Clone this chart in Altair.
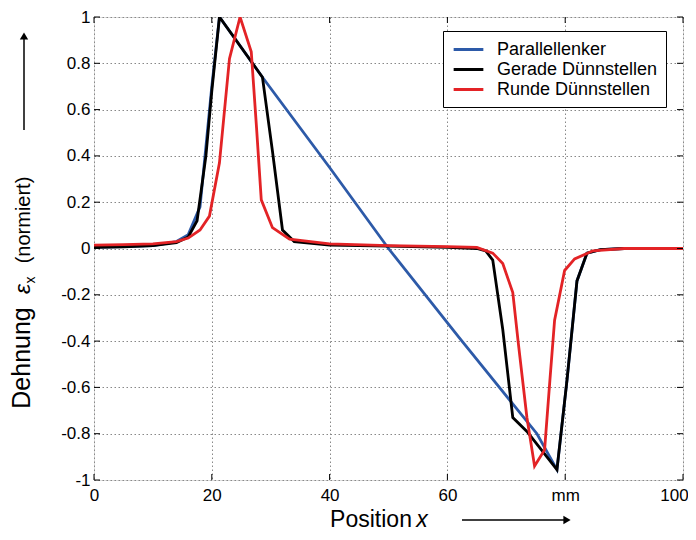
import altair as alt
import pandas as pd

# ---- data ----
x_par = [0, 5, 10, 14, 16, 18, 20, 21.3, 28.6, 40, 50, 62, 75.2, 78.6, 80.3, 82, 83.7, 86, 90, 100]
y_par = [0.005, 0.008, 0.012, 0.03, 0.06, 0.18, 0.7, 1.0, 0.74, 0.35, 0.0, -0.385, -0.80, -0.955,
         -0.57, -0.14, -0.02, -0.005, 0.0, 0.0]

x_ger = [0, 5, 10, 14, 16, 17.5, 19, 20, 21.3, 28.6, 30.3, 32, 34, 40, 50, 60, 65, 66.5, 67.7,
         69.4, 71.1, 73.5, 78.6, 80.3, 82, 83.7, 86, 90, 100]
y_ger = [0.005, 0.007, 0.012, 0.025, 0.05, 0.12, 0.4, 0.68, 1.0, 0.74, 0.42, 0.08, 0.03, 0.015,
         0.01, 0.005, 0.0, -0.01, -0.05, -0.35, -0.73, -0.79, -0.955, -0.57, -0.14, -0.02,
         -0.005, 0.0, 0.0]

x_run = [0, 5, 10, 14, 16, 18, 19.6, 21.3, 23, 24.8, 26.7, 27.6, 28.4, 30.3, 33.2, 40, 50, 60,
         65, 67.7, 69.4, 71.1, 72, 73.5, 74.8, 76.5, 77.4, 78.2, 79.9, 81.6, 84.7, 90, 100]
y_run = [0.015, 0.017, 0.02, 0.03, 0.045, 0.08, 0.14, 0.37, 0.82, 1.0, 0.85, 0.52, 0.21, 0.09,
         0.04, 0.02, 0.012, 0.008, 0.005, -0.02, -0.065, -0.19, -0.40, -0.73, -0.94, -0.87,
         -0.57, -0.31, -0.095, -0.045, -0.01, 0.0, 0.0]

series_names = ["Parallellenker", "Gerade Dünnstellen", "Runde Dünnstellen"]
series_colors = ["#2d5aa8", "#000000", "#e32326"]

x_ticks = [0, 20, 40, 60, 80, 100]
y_ticks = [-1, -0.8, -0.6, -0.4, -0.2, 0, 0.2, 0.4, 0.6, 0.8, 1]

W, H = 589, 463
FONT = "Liberation Sans"

xs = alt.Scale(domain=[0, 100], nice=False, zero=False)
ys = alt.Scale(domain=[-1, 1], nice=False, zero=False)

xaxis = alt.Axis(values=x_ticks, title=None, grid=True, ticks=False, domain=False,
                 labelFont=FONT, labelFontSize=17, labelColor="black", labelPadding=7,
                 labelExpr="datum.value == 80 ? 'mm' : datum.label",
                 labelOffset={"condition": {"test": "datum.value == 100", "value": -9},
                              "value": 0},
                 gridColor="#888888", gridDash=[1.5, 2.5], gridWidth=1, labelFlush=False)
yaxis = alt.Axis(values=y_ticks, title=None, grid=True, ticks=False, domain=False,
                 labelFont=FONT, labelFontSize=17, labelColor="black", labelPadding=4,
                 labelExpr="replace(format(datum.value, '.1~f'), '\u2212', '-')",
                 gridColor="#888888", gridDash=[1.5, 2.5], gridWidth=1)

color = alt.Color("series:N",
                  scale=alt.Scale(domain=series_names, range=series_colors),
                  legend=alt.Legend(title=None, orient="none", legendX=349, legendY=14,
                                    padding=8, strokeColor="black", fillColor="white",
                                    cornerRadius=0, symbolType="M-1.65,0H1.65", symbolSize=324,
                                    symbolOffset=7, symbolStrokeWidth=3, labelFont=FONT,
                                    labelFontSize=18, labelColor="black", labelOffset=18,
                                    rowPadding=0, labelLimit=300))


def line_layer(xv, yv, name):
    df = pd.DataFrame({"x": xv, "y": yv, "series": name})
    return alt.Chart(df).mark_line(strokeWidth=2.8, clip=True).encode(
        x=alt.X("x:Q", scale=xs, axis=xaxis),
        y=alt.Y("y:Q", scale=ys, axis=yaxis),
        color=color,
    )


lines = [
    line_layer(x_par, y_par, series_names[0]),
    line_layer(x_ger, y_ger, series_names[1]),
    line_layer(x_run, y_run, series_names[2]),
]

# inward tick marks on all four sides
dfx = pd.DataFrame({"x": x_ticks})
dfy = pd.DataFrame({"y": y_ticks})
tick_b = alt.Chart(dfx).mark_rule(color="black", strokeWidth=1).encode(
    x=alt.X("x:Q", scale=xs, axis=xaxis), y=alt.value(H), y2=alt.value(H - 6))
tick_t = alt.Chart(dfx).mark_rule(color="black", strokeWidth=1).encode(
    x=alt.X("x:Q", scale=xs, axis=xaxis), y=alt.value(0), y2=alt.value(6))
tick_l = alt.Chart(dfy).mark_rule(color="black", strokeWidth=1).encode(
    y=alt.Y("y:Q", scale=ys, axis=yaxis), x=alt.value(0), x2=alt.value(6))
tick_r = alt.Chart(dfy).mark_rule(color="black", strokeWidth=1).encode(
    y=alt.Y("y:Q", scale=ys, axis=yaxis), x=alt.value(W - 6), x2=alt.value(W))

one = alt.Data(values=[{"a": 1}])


def txt(text, x, y, size, angle=0, italic=False, align="center", baseline="alphabetic"):
    return alt.Chart(one).mark_text(
        text=text, font=FONT, fontSize=size, angle=angle, align=align, baseline=baseline,
        fontStyle="italic" if italic else "normal", color="black",
    ).encode(x=alt.value(x), y=alt.value(y))


# y-axis title pieces (rotated)
yt = [
    txt("Dehnung", -64, 341, 25, angle=270),
    txt("ε", -64, 272, 23, angle=270, italic=True),
    txt("x", -59, 263, 14, angle=270),
    txt("(normiert)", -64, 203, 20, angle=270),
]
# x-axis title pieces
xt = [
    txt("Position", 277, 510, 23),
    txt("x", 328, 510, 23, italic=True),
]

# arrows
arrow_y_line = alt.Chart(one).mark_rule(color="black", strokeWidth=1.5).encode(
    x=alt.value(-70), y=alt.value(113), y2=alt.value(22))
arrow_y_head = alt.Chart(one).mark_point(shape="triangle-up", filled=True, color="black",
                                         size=70, opacity=1).encode(
    x=alt.value(-70), y=alt.value(19))
arrow_x_line = alt.Chart(one).mark_rule(color="black", strokeWidth=1.5).encode(
    x=alt.value(368), x2=alt.value(470), y=alt.value(503))
arrow_x_head = alt.Chart(one).mark_point(shape="triangle-right", filled=True, color="black",
                                         size=70, opacity=1).encode(
    x=alt.value(473), y=alt.value(503))

chart = alt.layer(
    *lines, tick_b, tick_t, tick_l, tick_r, *yt, *xt,
    arrow_y_line, arrow_y_head, arrow_x_line, arrow_x_head,
).properties(
    width=W, height=H,
    autosize=alt.AutoSizeParams(type="none"),
    padding={"left": 86, "top": 9, "right": 5, "bottom": 52},
).configure_view(
    stroke="#222222", strokeWidth=1
).configure(background="white")

chart.save("out.html", embed_options={"renderer": "svg", "actions": False})
